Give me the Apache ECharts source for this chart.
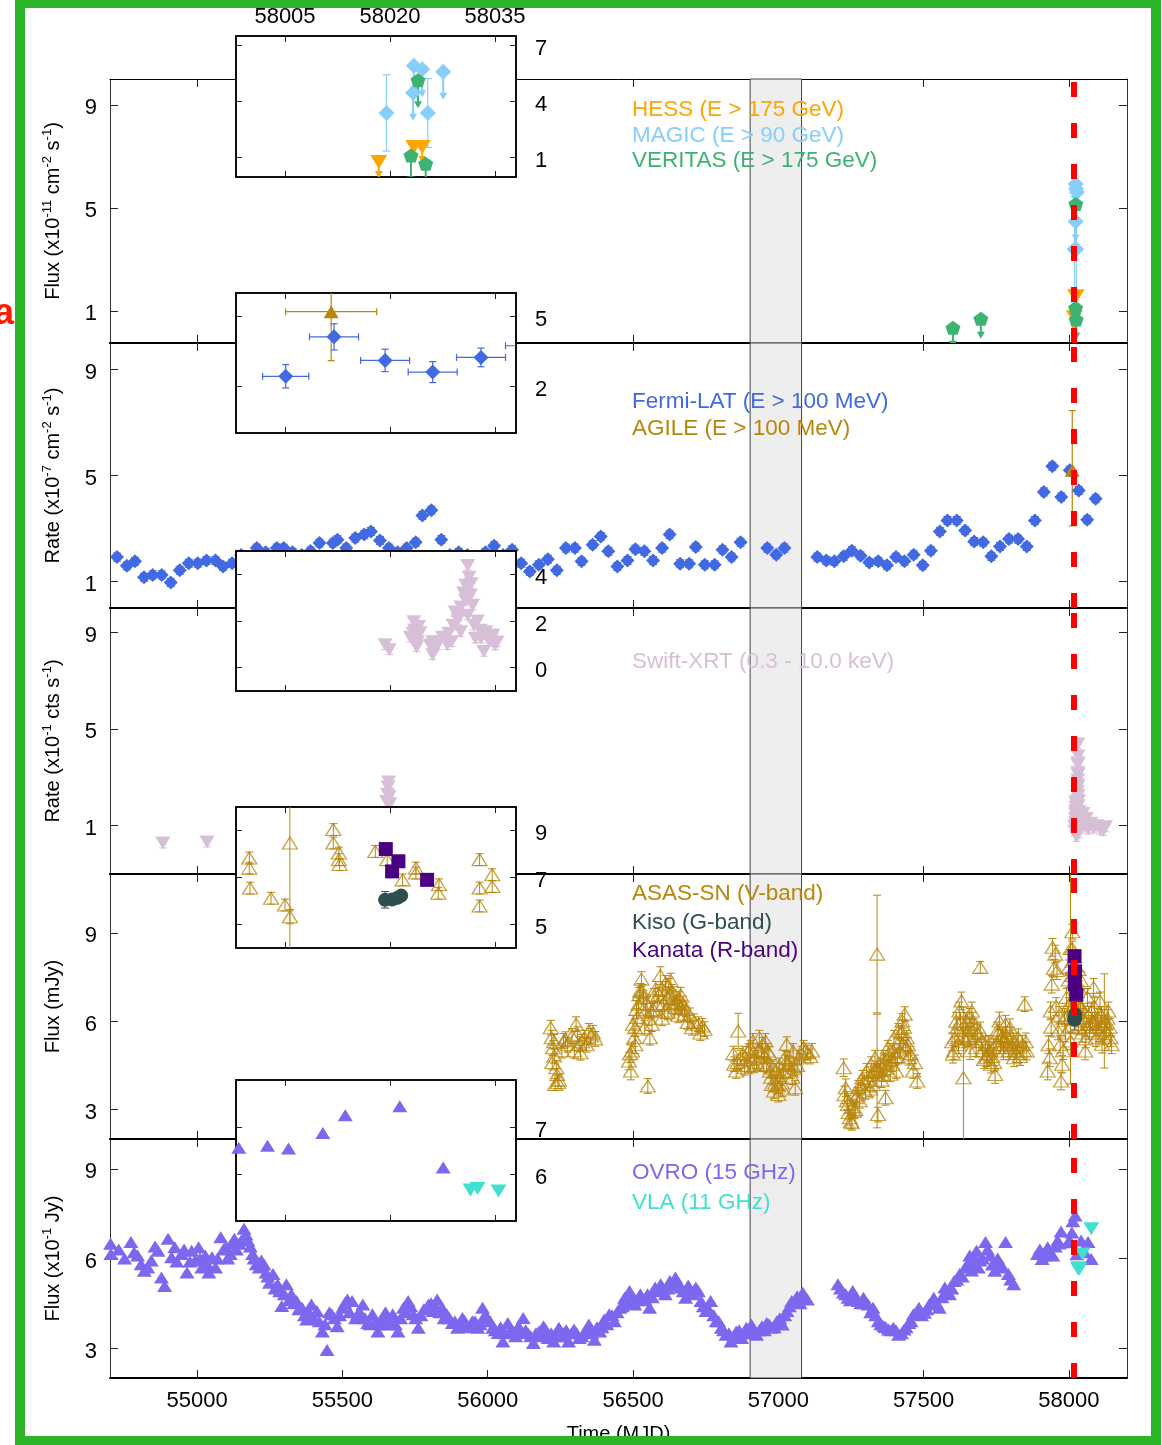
<!DOCTYPE html>
<html><head><meta charset="utf-8">
<script src="https://cdn.jsdelivr.net/npm/echarts@6/dist/echarts.min.js"></script>
<style>
html,body{margin:0;padding:0;background:#fff;overflow:hidden;}
#wrap{position:relative;width:1162px;height:1445px;}
#chart{position:absolute;left:0;top:0;width:1162px;height:1445px;}
#frame{position:absolute;left:15px;top:-2px;width:1146px;height:1448px;box-sizing:border-box;border:10px solid #2db52a;pointer-events:none;}
</style></head>
<body><div id="wrap"><div id="chart"></div><div id="frame"></div></div>
<script>
// ---------------- data ----------------
const MAIN_X_TICKS = [55000, 55500, 56000, 56500, 57000, 57500, 58000];
const INSET_X_TICKS = [58005, 58020, 58035];
const NU_MJD = 58018;
const BAND = [56903, 57080];

// VHE gamma rays (x1e-11 cm-2 s-1)
const hessUL = [[58018.4, 0.75], [58023.4, 1.56], [58024.6, 1.56]];
const magicDet = [[58019.5, 3.39, 2.05], [58025.4, 3.39, 1.85]];
const magicUL = [[58023.4, 5.92], [58024.6, 5.74], [58023.3, 4.47], [58027.6, 5.60]];
const veritasUL = [[57601, 0.34], [57697, 0.69], [58024.0, 5.15], [58023.0, 1.11], [58025.1, 0.66]];

// HE gamma rays (x1e-7 cm-2 s-1): [mjd, value]
const fermiMain = [[54724,1.92],[54758,1.59],[54786,1.76],[54817,1.16],[54847,1.25],[54878,1.25],[54909,0.96],[54940,1.42],[54971,1.69],[55002,1.69],[55032,1.79],[55063,1.79],[55089,1.57],[55120,1.69],[55151,2.0],[55178,1.9],[55205,2.26],[55236,2.1],[55274,2.26],[55298,2.26],[55328,2.1],[55360,2.0],[55390,2.15],[55421,2.45],[55467,2.45],[55483,2.58],[55513,2.26],[55544,2.64],[55575,2.77],[55598,2.89],[55629,2.55],[55660,2.26],[55690,2.1],[55721,2.26],[55752,2.48],[55775,3.49],[55806,3.69],[55840,2.58],[55870,2.0],[55900,2.1],[55930,2.0],[55962,1.9],[55992,2.1],[56022,2.35],[56053,2.0],[56084,2.20],[56115,1.69],[56145,1.38],[56176,1.63],[56207,1.84],[56238,1.42],[56269,2.26],[56300,2.26],[56323,1.76],[56361,2.39],[56389,2.70],[56415,2.14],[56446,1.57],[56481,1.79],[56508,2.22],[56539,2.14],[56569,1.79],[56600,2.26],[56626,2.77],[56662,1.67],[56693,1.67],[56716,2.30],[56747,1.63],[56781,1.63],[56808,2.20],[56839,1.92],[56870,2.48],[56962,2.26],[56993,2.01],[57021,2.26],[57134,1.92],[57165,1.79],[57193,1.76],[57225,1.95],[57253,2.16],[57283,1.97],[57313,1.72],[57344,1.76],[57374,1.61],[57405,1.92],[57434,1.76],[57466,2.01],[57497,1.61],[57525,2.16],[57556,2.89],[57582,3.30],[57614,3.30],[57643,2.92],[57674,2.51],[57705,2.48],[57733,1.95],[57763,2.32],[57794,2.60],[57825,2.60],[57855,2.32],[57883,3.30],[57914,4.38],[57943,5.35],[57974,4.19],[58003,5.20],[58034,4.43],[58063,3.33],[58092,4.12]];
const fermiErr = 0.15;
// weekly bins: [mjd, value, xerr, yerr]
const fermiInset = [[58005.1, 2.43, 3.3, 0.5], [58012.0, 4.12, 3.5, 0.56], [58019.3, 3.11, 3.5, 0.48], [58026.1, 2.61, 3.5, 0.45], [58033.0, 3.24, 3.5, 0.40], [58040.0, 3.74, 3.5, 0.40]];
// [mjd, value, xerr, low, high]
const agile = [[58011.6, 5.2, 6.5, 3.1, 7.45]];

// X-rays (x1e-1 cts s-1)
const swift = [[54882,0.28],[55034,0.32],[55652,2.0],[55655,2.3],[55657,2.6],[55659,2.8],[55661,2.2],[55663,1.9],
 [58019.3,0.98],[58019.9,0.77],
 [58023.4,1.97],[58023.5,1.61],[58023.6,1.26],[58023.8,0.90],[58023.3,1.47],[58024.1,1.76],[58023.9,1.11],[58022.9,1.3],[58024.3,1.5],
 [58026.1,1.11],[58026.3,0.83],[58026.1,0.55],[58025.7,0.97],[58026.8,0.97],
 [58028.4,1.47],[58028.2,0.98],[58029.0,1.82],[58029.3,2.39],[58029.7,2.04],[58028.8,1.11],[58030.1,1.54],[58027.5,1.3],[58029.8,2.2],
 [58031.1,4.38],[58031.3,3.88],[58030.8,3.53],[58031.5,3.10],[58031.8,2.68],[58031.1,2.25],[58032.0,1.82],[58030.8,2.89],[58030.1,2.60],[58032.2,1.26],[58030.5,3.2],[58031.6,3.6],[58032.5,2.0],
 [58033.7,1.54],[58034.2,1.11],[58033.4,0.69],[58034.7,1.40],[58035.0,0.97],[58033.0,1.26],[58032.9,1.6],[58034.5,1.25],[58035.3,1.1],
 [58040,1.2],[58044,0.9],[58049,1.5],[58054,1.0],[58060,1.3],[58066,0.85],[58075,1.1],[58085,0.9],[58096,1.0],[58108,0.85],[58118,0.8],[58126,0.95]];
const swiftErr = 0.2;

// Optical (mJy): [mjd, value, err]
const asassn = [
 [56217,5.78,.25],[56220,5.44,.25],[56225,5.10,.25],[56229,4.82,.25],[56236,4.42,.25],[56239,4.19,.2],[56242,3.91,.2],[56232,3.85,.2],[56268,5.39,.25],[56261,5.33,.25],[56304,5.90,.25],[56309,5.56,.25],[56315,5.22,.25],[56319,4.93,.25],[56333,5.44,.25],[56348,5.67,.25],[56355,5.50,.25],[56362,5.61,.25],
 [56222,4.6,.25],[56228,5.3,.25],[56245,4.0,.2],[56255,5.0,.25],[56275,5.2,.25],[56290,5.5,.25],[56298,5.0,.25],[56325,5.3,.25],[56340,5.2,.25],[56370,5.4,.25],
 [56486,4.65,.3],[56493,4.31,.3],[56496,4.99,.3],[56504,5.44,.3],[56507,5.78,.3],[56514,6.13,.3],[56519,6.58,.3],[56529,7.43,.25],[56525,7.03,.25],[56536,6.81,.25],[56543,6.35,.25],[56551,3.80,.25],[56558,5.44,.25],[56565,5.90,.25],[56572,6.86,.25],[56583,6.58,.25],[56594,7.55,.3],[56601,7.09,.25],[56609,6.35,.25],[56616,6.81,.25],[56623,7.20,.25],[56630,7.38,.25],[56638,6.81,.25],[56645,6.47,.25],[56652,6.64,.25],[56659,6.75,.25],[56667,6.47,.25],[56677,6.24,.25],[56688,5.96,.25],[56703,5.78,.25],[56725,5.90,.25],[56739,5.84,.25],[56746,5.73,.25],[56540,5.78,.25],[56562,6.35,.25],[56508,5.2,.3],[56600,6.1,.25],[56620,6.3,.25],
 [56490,4.9,.3],[56500,5.9,.3],[56512,6.4,.3],[56522,6.9,.25],[56532,7.0,.25],[56548,6.6,.25],[56555,6.1,.25],[56570,6.4,.25],[56578,7.1,.25],[56588,6.9,.25],[56605,6.6,.25],[56612,7.3,.25],[56627,6.9,.25],[56634,7.0,.25],[56642,6.6,.25],[56656,6.2,.25],[56664,6.9,.25],[56672,6.6,.25],[56682,6.4,.25],[56695,6.2,.25],[56710,6.0,.25],[56732,5.6,.25],
 [56862,5.67,.6],[56848,4.54,.25],[56855,4.31,.25],[56870,4.76,.25],[56884,4.42,.25],[56898,4.99,.25],[56913,5.33,.25],[56920,4.76,.25],[56935,5.44,.25],[56942,4.99,.25],[56949,4.54,.25],[56956,5.33,.25],[56964,4.99,.25],[56971,4.31,.25],[56978,3.85,.25],[56985,3.63,.25],[56993,4.31,.25],[57000,3.51,.25],[57007,4.08,.25],[57022,4.76,.25],[57029,5.22,.25],[57036,4.54,.25],[57043,4.31,.25],[57051,4.99,.25],[57058,3.74,.25],[57072,4.76,.25],[57087,5.10,.25],[57101,4.93,.25],[57116,4.99,.25],[56890,4.7,.25],[56925,4.6,.25],[56960,4.5,.25],[56990,3.9,.25],[57015,3.7,.25],
 [56845,4.9,.25],[56860,4.6,.25],[56878,4.9,.25],[56895,4.5,.25],[56905,5.1,.25],[56917,4.5,.25],[56930,5.0,.25],[56945,5.2,.25],[56952,4.8,.25],[56968,4.9,.25],[56975,4.1,.25],[56982,4.4,.25],[56998,3.8,.25],[57003,4.5,.25],[57012,3.9,.25],[57018,4.3,.25],[57025,4.6,.25],[57040,4.7,.25],[57048,4.1,.25],[57055,4.4,.25],[57065,4.5,.25],[57080,4.9,.25],[57095,5.0,.25],[57110,4.8,.25],
 [57225,4.42,.3],[57232,3.74,.3],[57239,3.17,.3],[57246,2.72,.25],[57253,2.55,.25],[57261,2.94,.25],[57268,3.40,.25],[57275,3.74,.25],[57290,4.08,.25],[57304,4.31,.25],[57319,4.54,.25],[57326,3.85,.25],[57333,4.76,.25],[57340,8.28,2.0],[57340,4.31,1.93],[57343,2.83,.25],[57348,4.31,.25],[57362,4.76,.25],[57369,3.40,.25],[57377,5.10,.25],[57391,4.54,.25],[57398,5.44,.25],[57406,4.31,.25],[57413,5.67,.25],[57420,4.99,.25],[57427,6.01,.25],[57435,6.24,.25],[57442,5.44,.25],[57449,4.76,.25],[57464,4.31,.25],[57478,3.97,.25],[57280,3.3,.25],[57300,3.6,.25],[57355,4.0,.25],[57385,4.2,.25],[57410,4.8,.25],[57430,5.2,.25],
 [57228,3.5,.3],[57236,3.3,.3],[57242,2.9,.25],[57250,2.6,.25],[57257,3.1,.25],[57265,3.0,.25],[57272,3.5,.25],[57285,3.8,.25],[57295,3.9,.25],[57310,4.0,.25],[57316,3.7,.25],[57322,4.2,.25],[57330,4.3,.25],[57338,4.4,.25],[57352,4.5,.25],[57358,4.2,.25],[57366,4.6,.25],[57373,4.4,.25],[57380,4.9,.25],[57388,4.7,.25],[57395,5.0,.25],[57402,4.8,.25],[57416,5.3,.25],[57424,5.6,.25],[57432,5.8,.25],[57438,5.1,.25],[57446,5.2,.25],[57455,4.9,.25],[57470,4.6,.25],
 [57601,4.88,.3],[57608,5.44,.3],[57616,5.78,.3],[57623,6.35,.3],[57630,6.69,.3],[57637,4.08,2.4],[57645,5.78,.3],[57652,5.44,.3],[57659,6.13,.3],[57666,6.35,.3],[57674,5.78,.3],[57681,5.10,.3],[57695,7.83,.2],[57695,5.67,.3],[57703,4.99,.3],[57717,4.76,.3],[57724,5.22,.3],[57732,4.54,.3],[57746,4.19,.3],[57753,5.67,.3],[57761,6.01,.3],[57768,5.44,.3],[57775,4.99,.3],[57782,5.90,.3],[57797,5.78,.3],[57804,5.10,.3],[57811,4.76,.3],[57826,5.44,.3],[57840,5.22,.3],[57848,6.58,.25],[57855,4.99,.3],[57620,5.2,.3],[57660,5.0,.3],[57740,5.1,.3],[57790,5.2,.3],[57820,4.9,.3],
 [57598,5.3,.3],[57605,5.0,.3],[57612,6.0,.3],[57627,6.0,.3],[57634,5.5,.3],[57642,5.4,.3],[57649,6.0,.3],[57656,5.5,.3],[57663,5.8,.3],[57670,6.0,.3],[57678,5.4,.3],[57686,5.6,.3],[57700,5.3,.3],[57708,4.7,.3],[57713,5.2,.3],[57720,4.9,.3],[57728,5.0,.3],[57736,4.8,.3],[57743,4.6,.3],[57750,5.2,.3],[57757,5.6,.3],[57765,5.2,.3],[57772,5.5,.3],[57779,5.3,.3],[57786,5.5,.3],[57794,5.0,.3],[57801,5.5,.3],[57808,5.3,.3],[57815,5.0,.3],[57822,5.2,.3],[57832,4.8,.3],[57845,5.0,.3],[57852,5.3,.3],
 [57927,4.31,.3],[57934,4.76,.3],[57937,6.35,.3],[57941,7.26,.3],[57944,8.51,.3],[57953,8.28,.3],[57959,7.72,.3],[57963,5.67,.3],[57970,5.22,.3],[57973,3.97,.3],[57977,4.54,.3],[57985,6.13,.3],[57992,6.81,.3],[58042,7.38,.3],[58049,6.13,.3],[58056,4.99,.3],[58064,6.81,.3],[58071,5.67,.3],[58078,6.35,.3],[58085,7.15,.3],[58093,5.44,.3],[58100,6.13,.3],[58107,6.69,.3],[58114,5.22,.3],[58122,6.01,1.6],[58129,5.67,.3],[58136,6.35,.3],[58143,5.44,.3],[58060,5.8,.3],[58090,6.0,.3],[58110,5.9,.3],
 [57930,5.2,.3],[57939,5.8,.3],[57948,7.8,.3],[57956,6.5,.3],[57966,6.2,.3],[57980,5.0,.3],[57988,5.6,.3],[57995,6.2,.3],[58040,6.5,.3],[58045,5.6,.3],[58052,6.0,.3],[58058,5.4,.3],[58067,6.2,.3],[58074,5.9,.3],[58081,6.0,.3],[58088,6.5,.3],[58096,5.8,.3],[58103,5.6,.3],[58112,6.2,.3],[58118,5.5,.3],[58125,5.9,.3],[58132,6.1,.3],[58140,5.8,.3],[58147,5.2,.3],
 [57999.9,7.83,.25],[57999.9,7.40,.25],[58000.0,6.55,.25],[58003.0,6.12,.25],[58005.0,5.83,.25],[58005.7,8.47,4.6],[58005.7,5.33,.3],[58011.9,9.04,.25],[58011.9,8.47,.25],[58012.7,8.04,.25],[58012.7,7.76,.25],[58012.8,7.55,.25],[58017.9,8.11,.25],[58019.6,7.76,.25],[58021.8,6.90,.25],[58023.7,7.40,.25],[58023.7,7.19,.25],[58027.0,6.69,.25],[58026.9,6.33,.25],[58032.8,7.76,.25],[58032.8,6.55,.25],[58032.8,5.79,.25],[58034.6,7.12,.25],[58034.6,6.62,.25]
];
const kiso = [[58019.3, 6.05, 0.35], [58020.3, 6.06, 0.1], [58021.1, 6.14, 0.1], [58021.6, 6.23, 0.1]];
const kanata = [[58019.4, 8.21], [58021.2, 7.69], [58020.3, 7.26], [58025.3, 6.90]];

// Radio (x1e-1 Jy)
const ovro = [[54702,6.49],[54703,6.15],[54772,6.55],[54783,6.21],[54807,5.81],[54818,5.59],[54842,5.93],[54865,6.26],[54877,5.36],[54888,5.08],[54900,6.66],[54912,6.04],[54923,6.38],[54946,6.15],[54965,5.53],[54981,6.26],[54993,5.93],[55005,6.38],[55016,5.70],[55028,6.10],[55040,5.53],[55051,6.04],[55063,5.70],[55081,6.71],[55098,6.38],[55114,6.15],[55128,6.66],[55144,6.49],[55161,7.00],[55175,6.60],[55191,6.15],[55203,5.81],[55221,5.93],[55237,5.53],[55249,5.19],[55261,5.48],[55277,5.14],[55291,4.41],[55307,5.14],[55324,4.80],[55342,4.58],[55361,4.35],[55377,3.96],[55393,4.46],[55412,4.24],[55431,3.56],[55447,2.94],[55463,4.13],[55482,3.73],[55500,4.35],[55517,4.63],[55533,4.58],[55552,4.13],[55570,4.46],[55587,3.84],[55603,4.13],[55622,3.56],[55640,4.01],[55657,3.79],[55673,4.13],[55691,3.56],[55710,4.35],[55726,4.58],[55743,4.13],[55761,3.68],[55780,4.30],[55796,4.46],[55812,4.24],[55826,4.63],[55843,4.35],[55859,4.13],[55878,3.84],[55896,3.68],[55913,4.01],[55929,3.73],[55947,3.90],[55966,3.68],[55982,4.35],[55999,4.01],[56017,3.68],[56036,3.51],[56052,3.22],[56069,3.84],[56087,3.56],[56106,3.73],[56122,4.01],[56138,3.51],[56157,3.17],[56176,3.56],[56192,3.73],[56208,3.34],[56227,3.22],[56245,3.68],[56262,3.51],[56278,3.22],[56297,3.62],[56315,3.34],[56332,3.51],[56348,3.79],[56367,3.28],[56385,3.56],[56401,3.96],[56418,4.13],[56436,3.90],[56455,4.35],[56471,4.69],[56488,4.91],[56506,4.46],[56525,4.80],[56541,4.63],[56557,4.35],[56576,5.03],[56595,5.14],[56611,4.80],[56627,5.25],[56646,5.36],[56665,5.03],[56681,4.69],[56697,4.86],[56716,5.03],[56734,4.58],[56751,4.24],[56767,4.58],[56786,3.90],[56804,3.68],[56820,3.45],[56837,3.22],[56855,3.56],[56874,3.34],[56890,3.68],[56907,3.79],[56925,3.45],[56944,3.73],[56960,3.84],[56976,3.68],[56995,3.90],[57014,3.79],[57030,4.24],[57046,4.58],[57065,4.74],[57084,4.86],[57100,4.63],[57205,5.14],[57224,4.86],[57240,4.69],[57256,4.91],[57275,4.58],[57293,4.69],[57309,4.46],[57326,4.35],[57344,3.90],[57363,3.73],[57379,3.62],[57396,3.68],[57414,3.45],[57433,3.62],[57449,3.84],[57465,4.13],[57484,4.35],[57503,4.18],[57519,4.46],[57535,4.69],[57554,4.35],[57573,5.03],[57589,4.80],[57605,5.25],[57624,5.48],[57643,5.70],[57659,6.10],[57671,5.81],[57682,6.26],[57694,5.93],[57713,6.55],[57729,6.10],[57745,5.59],[57764,5.81],[57782,6.55],[57792,5.48],[57810,5.14],[57892,6.15],[57908,5.98],[57927,6.38],[57945,6.10],[57961,6.60],[57973,6.90],[57998.4,6.56],[58002.5,6.60],[58005.5,6.54],[58010.4,6.87],[58013.6,7.25],[58021.4,7.44],[58027.6,6.14],[58042,6.60],[58054,6.21],[58066,6.55],[58077,5.98],
 [54730,6.3],[54750,6.0],[54795,6.1],[54830,5.7],[54855,6.4],[54930,5.9],[54955,6.3],[54975,5.9],[55010,6.0],[55035,5.8],[55070,6.0],[55090,6.3],[55105,6.0],[55120,6.5],[55135,6.3],[55152,6.6],[55168,6.8],[55183,6.4],[55196,6.0],[55214,5.7],[55230,5.8],[55243,5.4],[55268,5.0],[55284,4.9],[55300,4.8],[55316,4.6],[55333,4.5],[55350,4.3],[55369,4.1],[55385,4.2],[55402,4.0],[55420,3.9],[55440,3.8],[55455,4.2],[55472,4.0],[55490,4.1],[55508,4.5],[55525,4.2],[55545,4.0],[55560,4.2],[55578,4.0],[55595,3.8],[55612,3.9],[55630,3.8],[55648,4.2],[55665,3.9],[55682,3.8],[55700,4.0],[55718,4.2],[55735,4.4],[55752,4.0],[55770,4.1],[55788,4.3],[55805,4.5],[55820,4.4],[55835,4.2],[55850,4.0],[55868,4.0],[55887,3.9],[55905,3.8],[55921,3.9],[55938,3.7],[55956,3.9],[55974,3.8],[55990,4.1],[56008,3.9],[56026,3.6],[56044,3.7],[56060,3.5],[56078,3.6],[56096,3.4],[56114,3.5],[56130,3.6],[56148,3.4],[56166,3.5],[56184,3.4],[56200,3.6],[56218,3.5],[56236,3.4],[56254,3.4],[56270,3.6],[56288,3.5],[56306,3.5],[56324,3.4],[56340,3.6],[56358,3.5],[56376,3.7],[56393,3.7],[56410,3.8],[56428,4.1],[56445,4.2],[56463,4.4],[56480,4.5],[56497,4.7],[56515,4.6],[56533,4.6],[56550,4.8],[56566,4.7],[56585,4.9],[56603,5.0],[56620,5.0],[56638,5.1],[56655,5.2],[56673,4.9],[56690,5.1],[56706,4.8],[56725,4.9],[56742,4.4],[56760,4.3],[56778,4.1],[56795,3.9],[56812,3.6],[56830,3.5],[56847,3.4],[56865,3.6],[56882,3.5],[56898,3.5],[56915,3.6],[56935,3.6],[56952,3.6],[56968,3.8],[56986,3.7],[57005,4.0],[57022,4.1],[57038,4.4],[57056,4.6],[57075,4.5],[57092,4.7],[57214,5.0],[57232,4.8],[57248,4.6],[57265,4.7],[57284,4.5],[57300,4.5],[57318,4.2],[57335,4.1],[57353,3.8],[57370,3.7],[57388,3.6],[57405,3.6],[57424,3.5],[57440,3.7],[57457,3.9],[57475,4.2],[57493,4.1],[57511,4.3],[57527,4.5],[57545,4.5],[57563,4.7],[57581,4.9],[57597,5.0],[57614,5.3],[57633,5.4],[57651,5.8],[57665,5.6],[57677,6.0],[57688,5.7],[57703,6.0],[57720,6.3],[57737,5.8],[57755,6.0],[57773,5.7],[57800,5.3],[57900,6.3],[57916,6.1],[57935,6.2],[57953,6.4],[57967,6.5]];
const vla = [[58031.5, 5.66], [58032.5, 5.69], [58035.5, 5.64], [58047, 6.15], [58077, 7.0]];

// ---------------- layout / style ----------------
const FONT = '"Liberation Sans", Arial, Helvetica, sans-serif';
const C = {hess:'#FFA500', magic:'#87CEFA', veritas:'#3CB371', fermi:'#4169E1', agile:'#B8860B', swift:'#D8BFD8', asas:'#B8860B', kiso:'#2F4F4F', kanata:'#4B0082', ovro:'#7B68EE', vla:'#40E0D0'};
const PENTAGON = 'path://M0,-10 L9.51,-3.09 L5.88,8.09 L-5.88,8.09 L-9.51,-3.09 Z';
const PANELS = [
  {top:79, height:264, min:-0.25, max:10, ticks:[1,5,9], name:'{t|Flux (x10}{s|-11}{t| cm}{s|-2}{t| s}{s|-1}{t|)}'},
  {top:343, height:265, min:0, max:10, ticks:[1,5,9], name:'{t|Rate (x10}{s|-7}{t| cm}{s|-2}{t| s}{s|-1}{t|)}'},
  {top:608, height:266, min:-1, max:10, ticks:[1,5,9], name:'{t|Rate (x10}{s|-1}{t| cts s}{s|-1}{t|)}'},
  {top:874, height:265, min:2, max:11, ticks:[3,6,9], name:'{t|Flux (mJy)}'},
  {top:1139, height:241, min:2, max:10, ticks:[3,6,9], name:'{t|Flux (x10}{s|-1}{t| Jy)}'}
];
const INSETS = [
  {top:36, height:141, min:-0.05, max:7.52, ticks:[1,4,7]},
  {top:293, height:140, min:0, max:6, ticks:[2,5]},
  {top:551, height:140, min:-1, max:5, ticks:[0,2,4]},
  {top:807, height:141, min:4, max:10, ticks:[5,7,9]},
  {top:1080, height:141, min:5, max:8, ticks:[6,7]}
];
const LEGENDS = [
  [['HESS (E > 175 GeV)', C.hess, 109], ['MAGIC (E > 90 GeV)', C.magic, 135], ['VERITAS (E > 175 GeV)', C.veritas, 160]],
  [['Fermi-LAT (E > 100 MeV)', C.fermi, 401], ['AGILE (E > 100 MeV)', C.agile, 428]],
  [['Swift-XRT (0.3 - 10.0 keV)', C.swift, 661]],
  [['ASAS-SN (V-band)', C.asas, 893], ['Kiso (G-band)', C.kiso, 922], ['Kanata (R-band)', C.kanata, 950]],
  [['OVRO (15 GHz)', C.ovro, 1172], ['VLA (11 GHz)', C.vla, 1202]]
];

const grids = [], xAxes = [], yAxes = [], series = [];
const plain = v => String(v);

function makeAxes(gi, xr, xt, yr, yt, opts) {
  const zl = opts.zlevel;
  const tickLen = opts.inset ? 6 : 8;
  const xb = xAxes.length;
  const common = {gridIndex: gi, type: 'value', zlevel: zl, splitLine: {show: false}, silent: true};
  const lbl = {fontSize: 22, color: '#000', fontFamily: FONT, formatter: plain};
  const ylbl = Object.assign({}, lbl, {verticalAlign: 'top', lineHeight: 7});
  xAxes.push(Object.assign({}, common, {min: xr[0], max: xr[1], position: 'bottom',
    axisLine: {show: true, onZero: false, lineStyle: {color: '#000', width: opts.bottomW}},
    axisTick: {show: true, inside: true, length: tickLen, customValues: xt, lineStyle: {color: '#222', width: 1}},
    axisLabel: Object.assign({show: !!opts.bottomLabels, customValues: xt, margin: 12}, lbl),
    name: opts.xName || '', nameLocation: 'middle', nameGap: 46, nameTextStyle: {fontSize: 20, color: '#000', fontFamily: FONT}}));
  xAxes.push(Object.assign({}, common, {min: xr[0], max: xr[1], position: 'top',
    axisLine: {show: true, onZero: false, lineStyle: {color: '#000', width: opts.topW}},
    axisTick: {show: true, inside: true, length: tickLen, customValues: xt, lineStyle: {color: '#222', width: 1}},
    axisLabel: Object.assign({show: !!opts.topLabels, customValues: xt, margin: 8}, lbl)}));
  const yl = yAxes.length;
  yAxes.push(Object.assign({}, common, {min: yr[0], max: yr[1], position: 'left',
    axisLine: {show: true, onZero: false, lineStyle: {color: opts.inset ? '#000' : '#333', width: opts.inset ? 1.5 : 1}},
    axisTick: {show: true, inside: true, length: tickLen, customValues: yt, lineStyle: {color: '#222', width: 1}},
    axisLabel: Object.assign({show: !opts.inset, customValues: yt, margin: 13}, ylbl),
    name: opts.yName || '', nameLocation: 'middle', nameRotate: 90, nameGap: 45,
    nameTextStyle: {rich: {t: {fontSize: 20, lineHeight: 24, color: '#000', fontFamily: FONT}, s: {fontSize: 13, lineHeight: 13, verticalAlign: 'top', color: '#000', fontFamily: FONT}}}}));
  yAxes.push(Object.assign({}, common, {min: yr[0], max: yr[1], position: 'right',
    axisLine: {show: true, onZero: false, lineStyle: {color: opts.inset ? '#000' : '#333', width: opts.inset ? 1.5 : 1}},
    axisTick: {show: true, inside: true, length: tickLen, customValues: yt, lineStyle: {color: '#222', width: 1}},
    axisLabel: Object.assign({show: !!opts.inset, customValues: yt, margin: 19}, ylbl)}));
  return {xi: xb, yi: yl};
}

function errRender(color, cap, lw) {
  return function (params, api) {
    const x = api.value(0), y = api.value(1), ylo = api.value(2), yhi = api.value(3), xlo = api.value(4), xhi = api.value(5);
    const st = {stroke: color, lineWidth: lw};
    const ch = [];
    if (yhi > ylo) {
      const a = api.coord([x, ylo]), b = api.coord([x, yhi]);
      ch.push({type: 'line', shape: {x1: a[0], y1: a[1], x2: b[0], y2: b[1]}, style: st});
      ch.push({type: 'line', shape: {x1: a[0] - cap, y1: a[1], x2: a[0] + cap, y2: a[1]}, style: st});
      ch.push({type: 'line', shape: {x1: b[0] - cap, y1: b[1], x2: b[0] + cap, y2: b[1]}, style: st});
    }
    if (xhi > xlo) {
      const a = api.coord([xlo, y]), b = api.coord([xhi, y]);
      ch.push({type: 'line', shape: {x1: a[0], y1: a[1], x2: b[0], y2: b[1]}, style: st});
      ch.push({type: 'line', shape: {x1: a[0], y1: a[1] - cap, x2: a[0], y2: a[1] + cap}, style: st});
      ch.push({type: 'line', shape: {x1: b[0], y1: b[1] - cap, x2: b[0], y2: b[1] + cap}, style: st});
    }
    return {type: 'group', children: ch};
  };
}
function arrowRender(color, len) {
  return function (params, api) {
    const p = api.coord([api.value(0), api.value(1)]);
    const y2 = p[1] + len;
    return {type: 'group', children: [
      {type: 'line', shape: {x1: p[0], y1: p[1], x2: p[0], y2: y2 - 5}, style: {stroke: color, lineWidth: 2}},
      {type: 'polygon', shape: {points: [[p[0] - 4, y2 - 7], [p[0] + 4, y2 - 7], [p[0], y2]]}, style: {fill: color}}
    ]};
  };
}

function addErr(ax, zl, data, color, cap, lw) {
  series.push({type: 'custom', xAxisIndex: ax.xi, yAxisIndex: ax.yi, zlevel: zl, z: 3, clip: true, silent: true,
    renderItem: errRender(color, cap, lw || 1), data: data, encode: {x: 0, y: 1}});
}
function addArrows(ax, zl, data, color, len) {
  series.push({type: 'custom', xAxisIndex: ax.xi, yAxisIndex: ax.yi, zlevel: zl, z: 3, clip: true, silent: true,
    renderItem: arrowRender(color, len), data: data.map(d => [d[0], d[1]]), encode: {x: 0, y: 1}});
}
function addPts(ax, zl, data, symbol, size, color, extra) {
  const s = Object.assign({type: 'scatter', xAxisIndex: ax.xi, yAxisIndex: ax.yi, zlevel: zl, z: 4, silent: true,
    symbol: symbol, symbolSize: size, itemStyle: {color: color, opacity: 1}, data: data.map(d => [d[0], d[1]])}, extra || {});
  series.push(s);
}
function addRefs(ax, zl, withBand) {
  const s = {type: 'scatter', xAxisIndex: ax.xi, yAxisIndex: ax.yi, zlevel: zl, z: 1, silent: true, data: [],
    markLine: {silent: true, symbol: ['none', 'none'], label: {show: false}, animation: false,
      lineStyle: {color: '#ff0000', width: 6, type: [15, 26], cap: 'butt'}, data: [{xAxis: NU_MJD}]}};
  if (withBand) s.markArea = {silent: true, animation: false, itemStyle: {color: '#eeeeee', borderColor: '#444', borderWidth: 1},
    data: [[{xAxis: BAND[0]}, {xAxis: BAND[1]}]]};
  series.push(s);
}

const symErr = arr => arr.map(d => [d[0], d[1], d[1] - d[2], d[1] + d[2], d[0], d[0]]);

function drawPanelData(i, ax, zl, inset) {
  const arrowLen = inset ? 28 : 20;
  if (i === 0) {
    addArrows(ax, zl, hessUL, C.hess, inset ? 16 : 14);
    addPts(ax, zl, hessUL, 'triangle', [17, 14], C.hess, {symbolRotate: 180});
    addErr(ax, zl, symErr(magicDet), C.magic, 4, 1.2);
    addArrows(ax, zl, magicUL, C.magic, arrowLen);
    addPts(ax, zl, magicDet.concat(magicUL), 'diamond', [16, 16], C.magic);
    addArrows(ax, zl, veritasUL, C.veritas, arrowLen);
    addPts(ax, zl, veritasUL, PENTAGON, [15, 14], C.veritas);
  } else if (i === 1) {
    if (inset) {
      addErr(ax, zl, fermiInset.map(d => [d[0], d[1], d[1] - d[3], d[1] + d[3], d[0] - d[2], d[0] + d[2]]), C.fermi, 3.5, 1.2);
      addPts(ax, zl, fermiInset, 'diamond', [15, 15], C.fermi);
    } else {
      addErr(ax, zl, fermiMain.map(d => [d[0], d[1], d[1] - fermiErr, d[1] + fermiErr, d[0], d[0]]), C.fermi, 4, 1);
      addPts(ax, zl, fermiMain, 'diamond', [14, 14], C.fermi);
    }
    addErr(ax, zl, agile.map(d => [d[0], d[1], d[3], d[4], d[0] - d[2], d[0] + d[2]]), C.agile, 3.5, 1.2);
    addPts(ax, zl, agile, 'triangle', [15, 13], C.agile);
  } else if (i === 2) {
    addErr(ax, zl, swift.map(d => [d[0], d[1], d[1] - swiftErr, d[1] + swiftErr, d[0], d[0]]), C.swift, 4, 1);
    addPts(ax, zl, swift, 'triangle', [15, 13], C.swift, {symbolRotate: 180});
  } else if (i === 3) {
    addErr(ax, zl, symErr(asassn), C.asas, 4, 1);
    addPts(ax, zl, asassn, 'triangle', [15, 12], 'rgba(0,0,0,0)', {itemStyle: {color: 'rgba(0,0,0,0)', borderColor: C.asas, borderWidth: 1.2}});
    addErr(ax, zl, symErr(kiso), C.kiso, 4, 1);
    addPts(ax, zl, kiso, 'circle', [14, 14], C.kiso);
    addPts(ax, zl, kanata, 'rect', [14, 14], C.kanata);
  } else {
    addPts(ax, zl, ovro, 'triangle', [15, 12], C.ovro);
    addPts(ax, zl, vla, 'triangle', [16, 13], C.vla, {symbolRotate: 180});
  }
}

PANELS.forEach((p, i) => {
  const gi = grids.push({left: 110, top: p.top, width: 1017, height: p.height, show: false}) - 1;
  const ax = makeAxes(gi, [54700, 58200], MAIN_X_TICKS, [p.min, p.max], p.ticks,
    {zlevel: 0, bottomW: 2, topW: i === 0 ? 1 : 2, bottomLabels: i === 4, xName: i === 4 ? 'Time (MJD)' : '', yName: p.name});
  addRefs(ax, 0, true);
  drawPanelData(i, ax, 0, false);
});
INSETS.forEach((p, i) => {
  const gi = grids.push({left: 236, top: p.top, width: 280, height: p.height, show: true, backgroundColor: '#ffffff',
    borderColor: '#000', borderWidth: 1.5, zlevel: 1, z: 0}) - 1;
  const ax = makeAxes(gi, [57998, 58038], INSET_X_TICKS, [p.min, p.max], p.ticks,
    {zlevel: 1, inset: true, bottomW: 1.5, topW: 1.5, topLabels: i === 0});
  addRefs(ax, 1, false);
  drawPanelData(i, ax, 1, true);
});

const graphics = [];
LEGENDS.forEach(group => group.forEach(([txt, col, y]) => {
  graphics.push({type: 'text', left: 632, top: y - 11, z: 100, zlevel: 0, silent: true,
    style: {text: txt, fill: col, font: '22.5px ' + FONT}});
}));
graphics.push({type: 'text', left: -6, top: 296, z: 100, silent: true, style: {text: 'a', fill: '#ff1a00', font: 'bold 36px ' + FONT}});

const chart = echarts.init(document.getElementById('chart'), null, {renderer: 'canvas'});
chart.setOption({
  animation: false,
  backgroundColor: '#ffffff',
  grid: grids, xAxis: xAxes, yAxis: yAxes, series: series, graphic: graphics
});
</script></body></html>
